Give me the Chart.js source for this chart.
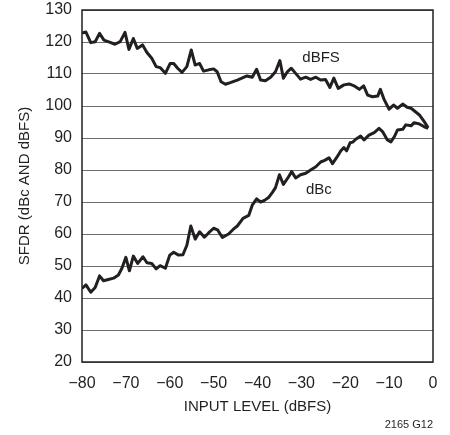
<!DOCTYPE html>
<html>
<head>
<meta charset="utf-8">
<script src="https://cdn.jsdelivr.net/npm/chart.js@4"></script>
<style>
html,body{margin:0;padding:0;background:#fff;}
#wrap{position:relative;width:450px;height:435px;}
</style>
</head>
<body>
<div id="wrap"><canvas id="myChart" width="450" height="435"></canvas></div>
<script>
// input level (dBFS) and SFDR
const dbfsX=[-80,-79.1,-78,-77,-76,-75,-73.6,-72.5,-71.3,-70.2,-69.3,-68.3,-67.4,-66.2,-65.2,-64.1,-63.1,-62.2,-61,-59.9,-59.1,-58.2,-57.2,-56.1,-55.1,-54.2,-53.2,-52.3,-51.1,-50,-49.2,-48.3,-47.3,-46.2,-44.6,-42.4,-41.2,-40.2,-39.3,-38.2,-37,-35.9,-34.9,-34.1,-33.2,-32.3,-31.3,-30.2,-29,-27.9,-26.7,-25.6,-24.5,-23.5,-22.6,-21.6,-20.3,-19.1,-18,-16.8,-15.8,-14.9,-13.8,-12.6,-12,-11.1,-10,-9,-8.1,-6.9,-5.9,-5,-4,-3.1,-2,-1.1]
const dbfsY=[122.8,123.1,119.8,120.1,122.7,120.6,119.9,119.3,120.1,123,117.7,121.1,118,119.1,116.7,114.9,112.3,112,110.2,113.3,113.3,111.8,110.5,112.3,117.5,112.8,113.3,110.9,111.3,111.6,110.7,107.6,106.8,107.3,108.1,109.4,109,111.5,108.1,107.9,109,110.7,114.2,108.7,110.7,111.8,110.2,108.4,109,108.3,109,108.1,108.3,105.8,108.7,105.5,106.6,106.9,106.3,105.2,106.3,103.4,102.9,103.1,105.2,101.9,99,100.3,99.3,100.6,99.6,99.3,98.2,97.2,95.1,93.2]
const dbcX=[-80,-79.1,-78,-77,-76,-75.1,-74,-72.8,-71.7,-70.9,-70,-69.2,-68.3,-67.3,-66.1,-65.2,-64.1,-63.1,-62.2,-61,-60,-59.1,-58,-57,-56.1,-55.2,-54.2,-53.2,-52.1,-51.1,-50,-49.1,-48,-46.6,-45.5,-44.6,-43.3,-42,-41.2,-40.2,-39.3,-38.4,-37.4,-36.6,-35.9,-35,-34.1,-33.1,-32.2,-31.3,-30.2,-29,-27.9,-26.7,-25.6,-24.7,-23.7,-22.9,-21.9,-21,-20.3,-19.7,-18.9,-18.3,-17.6,-16.5,-15.7,-14.6,-13.4,-12.3,-11.5,-10.4,-9.6,-8.8,-8.1,-6.9,-6.2,-5,-4.3,-3.1,-2,-1.1]
const dbcY=[43,44.1,41.8,43.3,46.9,45.4,45.8,46.2,47.2,49.3,52.7,48.5,53.1,50.8,52.9,51,50.8,49.1,50.1,49.3,53.4,54.3,53.4,53.5,56.5,62.5,58.4,60.7,59,60.4,61.8,61.3,58.9,60,61.5,62.5,64.9,65.8,69,71,70,70.5,71.5,73,74.5,78.5,75.5,77.5,79.5,77.5,78.5,79,80,81,82.5,83,83.8,82,84,86,87,86,88.5,88.7,89.6,90.6,89.4,90.9,91.7,93,92,89.4,88.8,90.4,92.5,92.7,94.1,93.8,94.8,94.4,93.5,93]
const xTicks=[-80,-70,-60,-50,-40,-30,-20,-10,0]
const yTicks=[20,30,40,50,60,70,80,90,100,110,120,130]
const labels=[{text:'dBFS',x:-25.5,y:115},{text:'dBc',x:-26,y:73.8}]

const FONT="'Liberation Sans Narrow','Arial Narrow','Liberation Sans',Arial,sans-serif"
const ink='#231f20'

function pts(xs,ys){return xs.map((v,i)=>({x:v,y:ys[i]}))}

const frame={
  id:'frame',
  afterDraw(chart){
    const c=chart.ctx, a=chart.chartArea
    c.save()
    c.strokeStyle=ink
    c.lineWidth=1.5
    c.strokeRect(a.left,a.top,a.right-a.left,a.bottom-a.top)
    // curve labels
    c.fillStyle=ink
    c.font='15px '+FONT
    c.textAlign='center'
    c.textBaseline='middle'
    labels.forEach(l=>{
      c.fillText(l.text,chart.scales.x.getPixelForValue(l.x),chart.scales.y.getPixelForValue(l.y))
    })
    c.font='11px '+FONT
    c.textAlign='right'
    c.fillText('2165 G12',433,425)
    c.restore()
  }
}

const ctx=document.getElementById('myChart')
new Chart(ctx,{
  type:'line',
  data:{
    datasets:[
      {label:'dBFS',data:pts(dbfsX,dbfsY),borderColor:ink,borderWidth:3,pointRadius:0,tension:0,borderJoinStyle:'round'},
      {label:'dBc',data:pts(dbcX,dbcY),borderColor:ink,borderWidth:3,pointRadius:0,tension:0,borderJoinStyle:'round'}
    ]
  },
  options:{
    responsive:false,
    animation:false,
    layout:{padding:{top:10,right:17,left:12,bottom:15}},
    plugins:{legend:{display:false},tooltip:{enabled:false}},
    scales:{
      x:{
        type:'linear',min:-80,max:0,
        afterBuildTicks(s){s.ticks=xTicks.map(v=>({value:v}))},
        afterFit(s){s.height=58;s.paddingLeft=0;s.paddingRight=0},
        grid:{display:false,drawTicks:false},
        border:{display:false},
        ticks:{padding:12,color:ink,font:{family:FONT,size:16},maxRotation:0,
          callback:v=>v<0?'\u2212'+Math.abs(v):String(v)},
        title:{display:true,text:'INPUT LEVEL (dBFS)',color:ink,font:{family:FONT,size:15},padding:{top:4}}
      },
      y:{
        min:20,max:130,
        afterBuildTicks(s){s.ticks=yTicks.map(v=>({value:v}))},
        afterFit(s){s.width=70;s.paddingTop=0;s.paddingBottom=0},
        grid:{color:'#6d6e71',lineWidth:1,drawTicks:false},
        border:{display:false},
        ticks:{padding:10,color:ink,font:{family:FONT,size:16}},
        title:{display:true,text:'SFDR (dBc AND dBFS)',color:ink,font:{family:FONT,size:15},padding:{bottom:4}}
      }
    }
  },
  plugins:[frame]
})
</script>
</body>
</html>
